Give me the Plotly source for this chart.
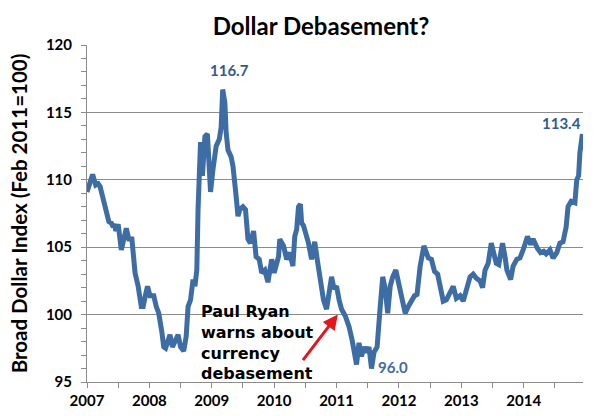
import plotly.graph_objects as go

# Decimal years and Broad Dollar Index values
years = [
    2007.00, 2007.05, 2007.09, 2007.14, 2007.18, 2007.21, 2007.23, 2007.27, 2007.31, 2007.35,
    2007.39, 2007.42, 2007.45, 2007.46, 2007.50, 2007.55, 2007.59, 2007.63, 2007.67, 2007.72,
    2007.77, 2007.82, 2007.87, 2007.90, 2007.94, 2007.97, 2008.01, 2008.07, 2008.11, 2008.15,
    2008.20, 2008.23, 2008.26, 2008.29, 2008.33, 2008.37, 2008.41, 2008.46, 2008.50, 2008.55,
    2008.59, 2008.62, 2008.66, 2008.70, 2008.73, 2008.76, 2008.78, 2008.81, 2008.82, 2008.85,
    2008.89, 2008.93, 2008.98, 2009.02, 2009.07, 2009.12, 2009.15, 2009.175, 2009.21, 2009.23,
    2009.26, 2009.31, 2009.34, 2009.39, 2009.42, 2009.45, 2009.50, 2009.54, 2009.58, 2009.62,
    2009.67, 2009.71, 2009.76, 2009.80, 2009.85, 2009.90, 2009.96, 2010.00, 2010.07, 2010.09,
    2010.15, 2010.20, 2010.25, 2010.30, 2010.33, 2010.36, 2010.39, 2010.42, 2010.44, 2010.47,
    2010.55, 2010.60, 2010.65, 2010.69, 2010.73, 2010.79, 2010.84, 2010.88, 2010.92, 2010.96,
    2011.00, 2011.04, 2011.08, 2011.14, 2011.20, 2011.25, 2011.32, 2011.36, 2011.40, 2011.44,
    2011.48, 2011.52, 2011.56, 2011.60, 2011.65, 2011.70, 2011.74, 2011.78, 2011.82, 2011.86,
    2011.90, 2011.95, 2011.98, 2012.03, 2012.10, 2012.15, 2012.21, 2012.25, 2012.29, 2012.34,
    2012.40, 2012.47, 2012.52, 2012.57, 2012.62, 2012.67, 2012.71, 2012.76, 2012.82, 2012.87,
    2012.92, 2012.98, 2013.03, 2013.08, 2013.14, 2013.19, 2013.24, 2013.30, 2013.34, 2013.38,
    2013.43, 2013.48, 2013.52, 2013.56, 2013.60, 2013.66, 2013.70, 2013.73, 2013.79, 2013.83,
    2013.89, 2013.94, 2013.99, 2014.06, 2014.11, 2014.15, 2014.22, 2014.27, 2014.32, 2014.36,
    2014.42, 2014.47, 2014.53, 2014.58, 2014.63, 2014.68, 2014.71, 2014.76, 2014.82, 2014.85,
    2014.88, 2014.90, 2014.94,
]
index_values = [
    109.1, 110.0, 110.4, 109.6, 109.7, 109.5, 109.1, 108.2, 107.3, 106.9,
    106.8, 106.5, 106.7, 106.2, 106.7, 104.8, 105.6, 106.4, 105.6, 105.6,
    103.1, 102.1, 100.6, 100.6, 101.5, 102.1, 101.4, 101.4, 100.6, 100.1,
    98.7, 97.6, 97.5, 97.9, 98.5, 97.6, 98.1, 98.5, 97.6, 97.3,
    98.4, 100.6, 101.1, 102.6, 102.1, 103.3, 107.8, 110.8, 112.8, 110.3,
    113.2, 113.4, 109.1, 110.8, 112.5, 113.0, 113.9, 116.7, 115.7, 113.5,
    112.2, 111.7, 111.0, 108.8, 107.3, 107.8, 108.0, 107.8, 105.6, 105.3,
    106.2, 104.3, 104.1, 103.1, 103.3, 102.4, 104.1, 103.1, 104.3, 105.6,
    105.1, 104.1, 104.6, 103.6, 105.8, 106.3, 108.0, 108.2, 106.8, 106.6,
    105.3, 104.1, 105.4, 104.1, 102.8, 101.1, 100.4, 101.6, 102.8, 101.9,
    102.1, 101.1, 100.4, 99.9, 99.1, 98.1, 96.3, 97.9, 96.9, 97.6,
    97.2, 97.6, 96.0, 97.2, 97.6, 100.6, 102.8, 101.9, 100.1, 102.1,
    102.8, 103.3, 102.6, 101.6, 100.1, 100.6, 101.1, 101.4, 101.5, 103.6,
    105.1, 104.2, 104.1, 103.2, 103.0, 101.9, 101.0, 101.1, 101.6, 102.1,
    101.2, 101.4, 101.0, 101.9, 102.8, 103.0, 102.7, 102.5, 102.0, 103.3,
    103.8, 105.3, 104.6, 103.8, 103.7, 105.3, 104.3, 103.3, 102.6, 103.6,
    104.1, 104.2, 104.8, 105.8, 105.2, 105.6, 104.9, 104.6, 104.7, 104.5,
    104.8, 104.2, 104.6, 105.3, 105.4, 106.5, 108.0, 108.4, 108.3, 110.0,
    110.3, 112.0, 113.4,
]
year_ticks = [2007, 2008, 2009, 2010, 2011, 2012, 2013, 2014]
year_labels = [str(y) for y in year_ticks]

# Callout values
peak_year, peak_value = 2009.175, 116.7
low_year, low_value = 2011.56, 96.0
last_year, last_value = 2014.94, 113.4
ryan_year, ryan_value = 2011.02, 100.0

LINE = "#3d6da4"
LABEL = "#2f5d91"
GRID = "#8c8c8c"
FONT = "Lato"

fig = go.Figure()
fig.add_trace(go.Scatter(
    x=years, y=index_values, mode="lines",
    line=dict(color=LINE, width=5), hoverinfo="skip", showlegend=False,
))

fig.update_layout(
    width=600, height=416,
    margin=dict(l=87, r=17, t=45, b=34, autoexpand=False),
    paper_bgcolor="white", plot_bgcolor="white",
    title=dict(text="Dollar Debasement?", x=321 / 600, xanchor="center",
               y=1 - 27 / 416, yanchor="middle", xref="container", yref="container",
               font=dict(family=FONT, size=24, color="black", weight="bold")),
    showlegend=False,
)

fig.update_xaxes(
    range=[2007, 2014.95], tickvals=year_ticks, ticktext=year_labels,
    showgrid=False, zeroline=False, automargin=False,
    showline=True, linecolor=GRID, linewidth=1,
    ticks="outside", ticklen=5, tickcolor=GRID,
    minor=dict(dtick=0.5, tick0=2007, ticks="outside", ticklen=5, tickcolor=GRID, showgrid=False),
    tickfont=dict(family=FONT, size=15, color="black", weight="bold"),
    ticklabelstandoff=0,
)
fig.update_yaxes(
    range=[95, 120], tick0=95, dtick=5,
    showgrid=True, gridcolor=GRID, gridwidth=1, zeroline=False, automargin=False,
    showline=True, linecolor=GRID, linewidth=1,
    ticks="outside", ticklen=5, tickcolor=GRID,
    minor=dict(dtick=1, ticks="outside", ticklen=5, tickcolor=GRID, showgrid=False),
    tickfont=dict(family=FONT, size=15, color="black", weight="bold"),
    ticklabelstandoff=6,
    title=dict(text="Broad Dollar Index (Feb 2011=100)", standoff=12,
               font=dict(family=FONT, size=20.5, color="black", weight="bold")),
)

fig.add_annotation(x=peak_year + 0.11, y=peak_value, yshift=8, text=f"{peak_value:.1f}",
                   showarrow=False, xanchor="center", yanchor="bottom",
                   font=dict(family=FONT, size=15, color=LABEL, weight="bold"))
fig.add_annotation(x=last_year - 0.33, y=last_value, yshift=0, text=f"{last_value:.1f}",
                   showarrow=False, xanchor="center", yanchor="bottom",
                   font=dict(family=FONT, size=15, color=LABEL, weight="bold"))
fig.add_annotation(x=low_year + 0.34, y=low_value, yshift=2, text=f"{low_value:.1f}",
                   showarrow=False, xanchor="center", yanchor="middle",
                   font=dict(family=FONT, size=15, color=LINE, weight="bold"))
fig.add_annotation(x=2008.80, y=101.1, text="Paul Ryan<br>warns about<br>currency<br>debasement",
                   showarrow=False, xanchor="left", yanchor="top", align="left",
                   font=dict(family="DejaVu Sans", size=16, color="black", weight="bold"))
fig.add_annotation(x=ryan_year, y=ryan_value, text="", showarrow=True,
                   ax=-36, ay=47, arrowcolor="#e3161c", arrowwidth=3, arrowhead=2, arrowsize=1)

fig.write_html("out.html")
